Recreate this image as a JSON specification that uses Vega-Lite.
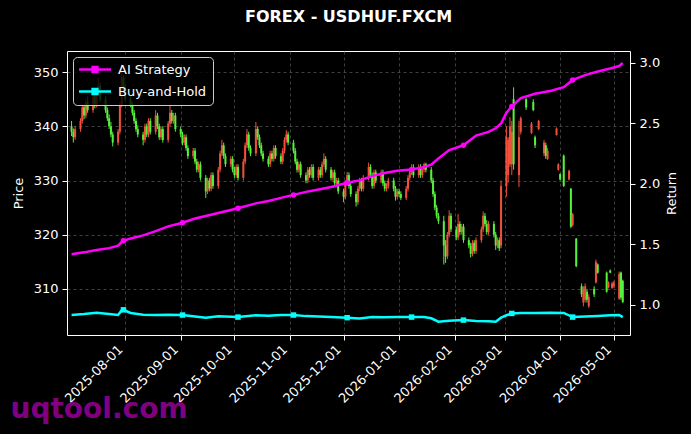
{
"$schema": "https://vega.github.io/schema/vega-lite/v6.json",
"width": 563, "height": 284,
"autosize": {"type": "none"},
"padding": {"left": 67, "top": 51, "right": 61, "bottom": 99},
"background": "#000000",
"config": {
  "font": "DejaVu Sans",
  "view": {"stroke": "#ffffff", "strokeWidth": 1},
  "axis": {"labelColor": "#ffffff", "labelFontSize": 13, "labelFont": "DejaVu Sans", "titleColor": "#ffffff", "titleFontSize": 13, "titleFontWeight": "normal", "titleFont": "DejaVu Sans", "tickColor": "#ffffff", "tickSize": 5, "labelPadding": 4, "domain": false, "gridColor": "#5a5a5a", "gridDash": [3, 3], "gridWidth": 0.7},
  "legend": {"orient": "top-left", "offset": 6, "padding": 6, "fillColor": "rgba(0,0,0,0.8)", "strokeColor": "#cccccc", "cornerRadius": 4, "labelColor": "#ffffff", "labelFontSize": 13, "labelFont": "DejaVu Sans", "symbolType": "M-1.3,0H5.1M1.42,-0.48H2.38V0.48H1.42Z", "symbolSize": 100, "symbolStrokeWidth": 2.5, "rowPadding": 7, "labelOffset": 26}
},
"title": {"text": "FOREX - USDHUF.FXCM", "color": "#ffffff", "fontSize": 16, "fontWeight": "bold", "font": "DejaVu Sans", "offset": 26, "anchor": "middle"},
"datasets": {
"candles": [
{"d":"2025-07-02","o":340,"h":341,"l":338.2,"c":339},
{"d":"2025-07-03","o":339,"h":339.6,"l":337,"c":338},
{"d":"2025-07-04","o":338,"h":340,"l":337.5,"c":339.5},
{"d":"2025-07-07","o":339.5,"h":341.5,"l":339,"c":341},
{"d":"2025-07-08","o":341,"h":344,"l":340.5,"c":343.5},
{"d":"2025-07-09","o":343.5,"h":344,"l":341.3,"c":342},
{"d":"2025-07-10","o":342,"h":345,"l":341.5,"c":344.5},
{"d":"2025-07-11","o":344.5,"h":345.5,"l":342.5,"c":343},
{"d":"2025-07-14","o":343,"h":346,"l":342.5,"c":345.5},
{"d":"2025-07-15","o":345.5,"h":346,"l":343.3,"c":344},
{"d":"2025-07-16","o":344,"h":347,"l":343.5,"c":346.5},
{"d":"2025-07-17","o":346.5,"h":349,"l":346,"c":347.5},
{"d":"2025-07-18","o":347.5,"h":348,"l":344.5,"c":345},
{"d":"2025-07-21","o":345,"h":345.6,"l":342.5,"c":343},
{"d":"2025-07-22","o":343,"h":343.5,"l":341,"c":341.5},
{"d":"2025-07-23","o":341.5,"h":342.2,"l":339.5,"c":340},
{"d":"2025-07-24","o":340,"h":340.8,"l":338,"c":338.5},
{"d":"2025-07-25","o":338.5,"h":339,"l":336.3,"c":337},
{"d":"2025-07-28","o":337,"h":339.5,"l":336.5,"c":339},
{"d":"2025-07-29","o":339,"h":344.5,"l":338.5,"c":344},
{"d":"2025-07-30","o":344,"h":351.5,"l":343.5,"c":349},
{"d":"2025-07-31","o":349,"h":349.5,"l":346.5,"c":347},
{"d":"2025-08-01","o":347,"h":347.8,"l":344.5,"c":345},
{"d":"2025-08-04","o":345,"h":345.5,"l":343.5,"c":344},
{"d":"2025-08-05","o":344,"h":344.5,"l":342,"c":342.5},
{"d":"2025-08-06","o":342.5,"h":343,"l":340.5,"c":341},
{"d":"2025-08-07","o":341,"h":341.5,"l":339,"c":339.5},
{"d":"2025-08-08","o":339.5,"h":340.2,"l":338,"c":338.5},
{"d":"2025-08-11","o":338.5,"h":339,"l":336.5,"c":337.5},
{"d":"2025-08-12","o":337.5,"h":340.5,"l":337,"c":340},
{"d":"2025-08-13","o":340,"h":340.5,"l":338,"c":338.5},
{"d":"2025-08-14","o":338.5,"h":341.5,"l":338,"c":341},
{"d":"2025-08-15","o":341,"h":341.5,"l":338.5,"c":339},
{"d":"2025-08-18","o":339,"h":343,"l":338.5,"c":342},
{"d":"2025-08-19","o":342,"h":342.5,"l":339.5,"c":340},
{"d":"2025-08-20","o":340,"h":340.5,"l":337.5,"c":338},
{"d":"2025-08-21","o":338,"h":340,"l":337.5,"c":339.5},
{"d":"2025-08-22","o":339.5,"h":340,"l":337,"c":337.5},
{"d":"2025-08-25","o":337.5,"h":341,"l":337,"c":340.5},
{"d":"2025-08-26","o":340.5,"h":344,"l":340,"c":342.5},
{"d":"2025-08-27","o":342.5,"h":343,"l":340.5,"c":341},
{"d":"2025-08-28","o":341,"h":342.5,"l":340.5,"c":342},
{"d":"2025-08-29","o":342,"h":342.5,"l":339,"c":339.5},
{"d":"2025-09-01","o":339.5,"h":340,"l":338,"c":338.5},
{"d":"2025-09-02","o":338.5,"h":339,"l":336.5,"c":337},
{"d":"2025-09-03","o":337,"h":338.5,"l":336.5,"c":338},
{"d":"2025-09-04","o":338,"h":338.5,"l":335.5,"c":336},
{"d":"2025-09-05","o":336,"h":336.5,"l":334,"c":334.5},
{"d":"2025-09-08","o":334.5,"h":336,"l":334,"c":335.5},
{"d":"2025-09-09","o":335.5,"h":336,"l":333,"c":333.5},
{"d":"2025-09-10","o":333.5,"h":334,"l":331.5,"c":332},
{"d":"2025-09-11","o":332,"h":333.5,"l":331.5,"c":333},
{"d":"2025-09-12","o":333,"h":333.5,"l":330,"c":330.5},
{"d":"2025-09-15","o":330.5,"h":331,"l":326.8,"c":328},
{"d":"2025-09-16","o":328,"h":330.5,"l":327.5,"c":330},
{"d":"2025-09-17","o":330,"h":330.5,"l":328,"c":328.5},
{"d":"2025-09-18","o":328.5,"h":331.5,"l":328,"c":331},
{"d":"2025-09-19","o":331,"h":331.5,"l":328.5,"c":329},
{"d":"2025-09-22","o":329,"h":332.5,"l":328.5,"c":332},
{"d":"2025-09-23","o":332,"h":335.5,"l":331.5,"c":335},
{"d":"2025-09-24","o":335,"h":337.5,"l":334.5,"c":336.5},
{"d":"2025-09-25","o":336.5,"h":337,"l":334,"c":334.5},
{"d":"2025-09-26","o":334.5,"h":335,"l":332.5,"c":333},
{"d":"2025-09-29","o":333,"h":334.5,"l":332.5,"c":334},
{"d":"2025-09-30","o":334,"h":334.5,"l":331.5,"c":332},
{"d":"2025-10-01","o":332,"h":332.5,"l":330.5,"c":331},
{"d":"2025-10-02","o":331,"h":333,"l":330.5,"c":332.5},
{"d":"2025-10-03","o":332.5,"h":333,"l":330,"c":330.5},
{"d":"2025-10-06","o":330.5,"h":334,"l":330,"c":333.5},
{"d":"2025-10-07","o":333.5,"h":337,"l":333,"c":336.5},
{"d":"2025-10-08","o":336.5,"h":339.5,"l":336,"c":338.5},
{"d":"2025-10-09","o":338.5,"h":339,"l":335.5,"c":336},
{"d":"2025-10-10","o":336,"h":336.5,"l":334.5,"c":335},
{"d":"2025-10-13","o":335,"h":340.8,"l":334.5,"c":339.5},
{"d":"2025-10-14","o":339.5,"h":340,"l":337.5,"c":338},
{"d":"2025-10-15","o":338,"h":338.5,"l":336,"c":336.5},
{"d":"2025-10-16","o":336.5,"h":337,"l":334.5,"c":335},
{"d":"2025-10-17","o":335,"h":335.5,"l":333.5,"c":334},
{"d":"2025-10-20","o":334,"h":334.5,"l":332.5,"c":333},
{"d":"2025-10-21","o":333,"h":335.5,"l":332.5,"c":335},
{"d":"2025-10-22","o":335,"h":335.5,"l":333.5,"c":334},
{"d":"2025-10-23","o":334,"h":336.5,"l":333.5,"c":336},
{"d":"2025-10-24","o":336,"h":336.5,"l":334,"c":334.5},
{"d":"2025-10-27","o":334.5,"h":335,"l":333,"c":333.5},
{"d":"2025-10-28","o":333.5,"h":336,"l":333,"c":335.5},
{"d":"2025-10-29","o":335.5,"h":338,"l":335,"c":337.5},
{"d":"2025-10-30","o":337.5,"h":339.3,"l":337,"c":338.5},
{"d":"2025-10-31","o":338.5,"h":339,"l":336.5,"c":337},
{"d":"2025-11-03","o":337,"h":337.5,"l":335,"c":335.5},
{"d":"2025-11-04","o":335.5,"h":336,"l":333,"c":333.5},
{"d":"2025-11-05","o":333.5,"h":334,"l":331.5,"c":332},
{"d":"2025-11-06","o":332,"h":333.5,"l":331.5,"c":333},
{"d":"2025-11-07","o":333,"h":333.5,"l":330.5,"c":331},
{"d":"2025-11-10","o":331,"h":331.5,"l":329.5,"c":330},
{"d":"2025-11-11","o":330,"h":332.5,"l":329.5,"c":332},
{"d":"2025-11-12","o":332,"h":332.5,"l":330.5,"c":331},
{"d":"2025-11-13","o":331,"h":333,"l":330.5,"c":332.5},
{"d":"2025-11-14","o":332.5,"h":333,"l":330,"c":330.5},
{"d":"2025-11-17","o":330.5,"h":332.5,"l":330,"c":332},
{"d":"2025-11-18","o":332,"h":332.5,"l":330.5,"c":331},
{"d":"2025-11-19","o":331,"h":333.5,"l":330.5,"c":333},
{"d":"2025-11-20","o":333,"h":335,"l":332.5,"c":334},
{"d":"2025-11-21","o":334,"h":334.5,"l":331.5,"c":332},
{"d":"2025-11-24","o":332,"h":332.5,"l":330,"c":330.5},
{"d":"2025-11-25","o":330.5,"h":332,"l":330,"c":331.5},
{"d":"2025-11-26","o":331.5,"h":332,"l":329,"c":329.5},
{"d":"2025-11-27","o":329.5,"h":330.5,"l":329,"c":330},
{"d":"2025-11-28","o":330,"h":330.5,"l":327.5,"c":328},
{"d":"2025-12-01","o":328,"h":328.5,"l":326,"c":327},
{"d":"2025-12-02","o":327,"h":330,"l":326.5,"c":329.5},
{"d":"2025-12-03","o":329.5,"h":331.6,"l":329,"c":331},
{"d":"2025-12-04","o":331,"h":331.5,"l":328.5,"c":329},
{"d":"2025-12-05","o":329,"h":329.5,"l":327,"c":327.5},
{"d":"2025-12-08","o":327.5,"h":328,"l":325.2,"c":326},
{"d":"2025-12-09","o":326,"h":329,"l":325.5,"c":328.5},
{"d":"2025-12-10","o":328.5,"h":330.5,"l":328,"c":330},
{"d":"2025-12-11","o":330,"h":330.5,"l":328,"c":328.5},
{"d":"2025-12-12","o":328.5,"h":331,"l":328,"c":330.5},
{"d":"2025-12-15","o":330.5,"h":333.3,"l":330,"c":332.5},
{"d":"2025-12-16","o":332.5,"h":333,"l":330.5,"c":331},
{"d":"2025-12-17","o":331,"h":331.5,"l":328.5,"c":329},
{"d":"2025-12-18","o":329,"h":332,"l":328.5,"c":331.5},
{"d":"2025-12-19","o":331.5,"h":332,"l":329.5,"c":330},
{"d":"2025-12-22","o":330,"h":332,"l":329.5,"c":331.5},
{"d":"2025-12-23","o":331.5,"h":332,"l":329,"c":329.5},
{"d":"2025-12-24","o":329.5,"h":330,"l":328,"c":328.5},
{"d":"2025-12-25","o":328.5,"h":329.5,"l":328,"c":329},
{"d":"2025-12-26","o":329,"h":330.5,"l":328.5,"c":330},
{"d":"2025-12-29","o":330,"h":330.5,"l":328,"c":328.5},
{"d":"2025-12-30","o":328.5,"h":329,"l":326.3,"c":327},
{"d":"2025-12-31","o":327,"h":328.5,"l":326.5,"c":328},
{"d":"2026-01-01","o":328,"h":328.5,"l":327,"c":327.5},
{"d":"2026-01-02","o":327.5,"h":328,"l":326.4,"c":326.8},
{"d":"2026-01-05","o":326.8,"h":329,"l":326.4,"c":328.5},
{"d":"2026-01-06","o":328.5,"h":331,"l":328,"c":330.5},
{"d":"2026-01-07","o":330.5,"h":332,"l":330,"c":331.5},
{"d":"2026-01-08","o":331.5,"h":333,"l":331,"c":332.5},
{"d":"2026-01-09","o":332.5,"h":333,"l":330.5,"c":331},
{"d":"2026-01-12","o":331,"h":333,"l":330.5,"c":332.5},
{"d":"2026-01-13","o":332.5,"h":333,"l":330.5,"c":331},
{"d":"2026-01-14","o":331,"h":332.5,"l":330.5,"c":332},
{"d":"2026-01-15","o":332,"h":333.3,"l":331.5,"c":333},
{"d":"2026-01-16","o":333,"h":333.3,"l":331.5,"c":332},
{"d":"2026-01-19","o":332,"h":332.5,"l":329.5,"c":330},
{"d":"2026-01-20","o":330,"h":330.5,"l":327,"c":327.5},
{"d":"2026-01-21","o":327.5,"h":328,"l":324.5,"c":325},
{"d":"2026-01-22","o":325,"h":325.5,"l":323,"c":323.5},
{"d":"2026-01-23","o":323.5,"h":324,"l":322,"c":322.5},
{"d":"2026-01-26","o":322.5,"h":323.5,"l":314.5,"c":318},
{"d":"2026-01-27","o":318,"h":319,"l":314.8,"c":316},
{"d":"2026-01-28","o":316,"h":320.5,"l":315.5,"c":320},
{"d":"2026-01-29","o":320,"h":324.5,"l":319.5,"c":323.5},
{"d":"2026-01-30","o":323.5,"h":324,"l":320.5,"c":321},
{"d":"2026-02-02","o":321,"h":321.5,"l":319,"c":319.5},
{"d":"2026-02-03","o":319.5,"h":323.8,"l":319,"c":322},
{"d":"2026-02-04","o":322,"h":322.5,"l":320,"c":320.5},
{"d":"2026-02-05","o":320.5,"h":322,"l":320,"c":321.5},
{"d":"2026-02-06","o":321.5,"h":322,"l":318.5,"c":319},
{"d":"2026-02-09","o":319,"h":319.5,"l":317.5,"c":318},
{"d":"2026-02-10","o":318,"h":318.5,"l":315.8,"c":316.5},
{"d":"2026-02-11","o":316.5,"h":319,"l":316,"c":318.5},
{"d":"2026-02-12","o":318.5,"h":319,"l":316.5,"c":317},
{"d":"2026-02-13","o":317,"h":319.5,"l":316.5,"c":319},
{"d":"2026-02-16","o":319,"h":321.5,"l":318.5,"c":321},
{"d":"2026-02-17","o":321,"h":324.3,"l":320.5,"c":323.5},
{"d":"2026-02-18","o":323.5,"h":324,"l":321.5,"c":322},
{"d":"2026-02-19","o":322,"h":322.7,"l":320,"c":320.5},
{"d":"2026-02-20","o":320.5,"h":322.5,"l":320,"c":322},
{"d":"2026-02-23","o":322,"h":322.5,"l":319.5,"c":320},
{"d":"2026-02-24","o":320,"h":320.5,"l":317.2,"c":318},
{"d":"2026-02-25","o":318,"h":319.5,"l":317.5,"c":319},
{"d":"2026-02-26","o":319,"h":319.5,"l":317,"c":317.5},
{"d":"2026-02-27","o":318,"h":330,"l":317.5,"c":329},
{"d":"2026-03-02","o":329,"h":340,"l":327,"c":338},
{"d":"2026-03-03","o":331,"h":338,"l":329.6,"c":337.5},
{"d":"2026-03-04","o":333,"h":341.7,"l":332.5,"c":340},
{"d":"2026-03-05","o":333,"h":341,"l":331,"c":339},
{"d":"2026-03-06","o":345,"h":347.2,"l":332,"c":333},
{"d":"2026-03-09","o":331,"h":341,"l":328.8,"c":338},
{"d":"2026-03-10","o":339,"h":341.8,"l":338.5,"c":341.5},
{"d":"2026-03-13","o":345,"h":345.3,"l":343,"c":343.5},
{"d":"2026-03-16","o":338.8,"h":340.8,"l":338.6,"c":340.5},
{"d":"2026-03-17","o":344.5,"h":345,"l":342.8,"c":343},
{"d":"2026-03-18","o":338,"h":338.3,"l":336,"c":336.5},
{"d":"2026-03-20","o":339.5,"h":341.2,"l":339.3,"c":341},
{"d":"2026-03-23","o":335,"h":337.5,"l":334.5,"c":337},
{"d":"2026-03-24","o":336.5,"h":337,"l":334,"c":334.5},
{"d":"2026-03-25","o":334,"h":336,"l":333.8,"c":335.5},
{"d":"2026-03-30","o":338.4,"h":339.8,"l":338.3,"c":339.6},
{"d":"2026-03-31","o":332,"h":333.2,"l":331.8,"c":333},
{"d":"2026-04-01","o":331.2,"h":331.3,"l":330,"c":330.2},
{"d":"2026-04-03","o":334.6,"h":334.8,"l":328.8,"c":329},
{"d":"2026-04-06","o":330.2,"h":332,"l":330,"c":331.8},
{"d":"2026-04-07","o":328.5,"h":328.6,"l":321.2,"c":321.5},
{"d":"2026-04-08","o":321.8,"h":324,"l":321.5,"c":323.8},
{"d":"2026-04-10","o":319.3,"h":319.4,"l":314,"c":314.2},
{"d":"2026-04-13","o":310.5,"h":311,"l":308.5,"c":309},
{"d":"2026-04-14","o":307.5,"h":310.5,"l":306.8,"c":310},
{"d":"2026-04-15","o":308,"h":311,"l":307.5,"c":310.5},
{"d":"2026-04-16","o":309.5,"h":310,"l":307.5,"c":308},
{"d":"2026-04-17","o":306.8,"h":309,"l":306.5,"c":308.5},
{"d":"2026-04-20","o":310,"h":310.5,"l":308.5,"c":309},
{"d":"2026-04-21","o":311.2,"h":315.4,"l":311,"c":315},
{"d":"2026-04-22","o":314.5,"h":314.7,"l":312.8,"c":313},
{"d":"2026-04-27","o":313,"h":313.2,"l":309.3,"c":309.5},
{"d":"2026-04-28","o":310.3,"h":311.4,"l":310.1,"c":311.2},
{"d":"2026-04-29","o":313.4,"h":313.6,"l":312.9,"c":313},
{"d":"2026-04-30","o":310.2,"h":311.3,"l":310,"c":311},
{"d":"2026-05-01","o":310.5,"h":311.5,"l":310.2,"c":311.2},
{"d":"2026-05-04","o":308.2,"h":313.2,"l":308,"c":312.8},
{"d":"2026-05-05","o":313,"h":313.2,"l":308,"c":308.4},
{"d":"2026-05-06","o":311.5,"h":311.7,"l":307.4,"c":307.6}
],
"ret": [
{"d":"2025-07-02","AI Strategy":1.42,"Buy-and-Hold":0.917},
{"d":"2025-07-09","AI Strategy":1.435,"Buy-and-Hold":0.925},
{"d":"2025-07-16","AI Strategy":1.455,"Buy-and-Hold":0.936},
{"d":"2025-07-23","AI Strategy":1.47,"Buy-and-Hold":0.925},
{"d":"2025-07-28","AI Strategy":1.49,"Buy-and-Hold":0.917},
{"d":"2025-07-30","AI Strategy":1.52,"Buy-and-Hold":0.955},
{"d":"2025-07-31","AI Strategy":1.53,"Buy-and-Hold":0.96},
{"d":"2025-08-04","AI Strategy":1.55,"Buy-and-Hold":0.934},
{"d":"2025-08-11","AI Strategy":1.575,"Buy-and-Hold":0.92},
{"d":"2025-08-18","AI Strategy":1.61,"Buy-and-Hold":0.917},
{"d":"2025-08-25","AI Strategy":1.65,"Buy-and-Hold":0.92},
{"d":"2025-09-02","AI Strategy":1.68,"Buy-and-Hold":0.917},
{"d":"2025-09-09","AI Strategy":1.715,"Buy-and-Hold":0.905},
{"d":"2025-09-15","AI Strategy":1.735,"Buy-and-Hold":0.895},
{"d":"2025-09-22","AI Strategy":1.76,"Buy-and-Hold":0.906},
{"d":"2025-10-03","AI Strategy":1.80,"Buy-and-Hold":0.90},
{"d":"2025-10-13","AI Strategy":1.84,"Buy-and-Hold":0.915},
{"d":"2025-10-20","AI Strategy":1.86,"Buy-and-Hold":0.912},
{"d":"2025-10-27","AI Strategy":1.885,"Buy-and-Hold":0.917},
{"d":"2025-11-03","AI Strategy":1.91,"Buy-and-Hold":0.917},
{"d":"2025-11-10","AI Strategy":1.935,"Buy-and-Hold":0.908},
{"d":"2025-11-17","AI Strategy":1.955,"Buy-and-Hold":0.905},
{"d":"2025-11-24","AI Strategy":1.975,"Buy-and-Hold":0.90},
{"d":"2025-12-03","AI Strategy":2.01,"Buy-and-Hold":0.895},
{"d":"2025-12-10","AI Strategy":2.03,"Buy-and-Hold":0.888},
{"d":"2025-12-17","AI Strategy":2.065,"Buy-and-Hold":0.90},
{"d":"2025-12-24","AI Strategy":2.09,"Buy-and-Hold":0.898},
{"d":"2025-12-31","AI Strategy":2.11,"Buy-and-Hold":0.90},
{"d":"2026-01-08","AI Strategy":2.12,"Buy-and-Hold":0.90},
{"d":"2026-01-15","AI Strategy":2.14,"Buy-and-Hold":0.90},
{"d":"2026-01-19","AI Strategy":2.16,"Buy-and-Hold":0.89},
{"d":"2026-01-23","AI Strategy":2.21,"Buy-and-Hold":0.862},
{"d":"2026-01-29","AI Strategy":2.28,"Buy-and-Hold":0.87},
{"d":"2026-02-06","AI Strategy":2.32,"Buy-and-Hold":0.875},
{"d":"2026-02-13","AI Strategy":2.40,"Buy-and-Hold":0.868},
{"d":"2026-02-20","AI Strategy":2.43,"Buy-and-Hold":0.865},
{"d":"2026-02-24","AI Strategy":2.46,"Buy-and-Hold":0.862},
{"d":"2026-02-27","AI Strategy":2.50,"Buy-and-Hold":0.895},
{"d":"2026-03-02","AI Strategy":2.59,"Buy-and-Hold":0.915},
{"d":"2026-03-05","AI Strategy":2.64,"Buy-and-Hold":0.93},
{"d":"2026-03-10","AI Strategy":2.71,"Buy-and-Hold":0.934},
{"d":"2026-03-18","AI Strategy":2.745,"Buy-and-Hold":0.934},
{"d":"2026-03-27","AI Strategy":2.77,"Buy-and-Hold":0.936},
{"d":"2026-04-03","AI Strategy":2.80,"Buy-and-Hold":0.934},
{"d":"2026-04-08","AI Strategy":2.86,"Buy-and-Hold":0.90},
{"d":"2026-04-15","AI Strategy":2.90,"Buy-and-Hold":0.905},
{"d":"2026-04-22","AI Strategy":2.93,"Buy-and-Hold":0.91},
{"d":"2026-04-29","AI Strategy":2.955,"Buy-and-Hold":0.915},
{"d":"2026-05-04","AI Strategy":2.975,"Buy-and-Hold":0.917},
{"d":"2026-05-06","AI Strategy":3.0,"Buy-and-Hold":0.90}
],
"mk": [
{"d":"2025-07-31","AI Strategy":1.53,"Buy-and-Hold":0.96},
{"d":"2025-09-02","AI Strategy":1.68,"Buy-and-Hold":0.917},
{"d":"2025-10-03","AI Strategy":1.80,"Buy-and-Hold":0.90},
{"d":"2025-11-03","AI Strategy":1.91,"Buy-and-Hold":0.917},
{"d":"2025-12-03","AI Strategy":2.01,"Buy-and-Hold":0.895},
{"d":"2026-01-08","AI Strategy":2.12,"Buy-and-Hold":0.90},
{"d":"2026-02-06","AI Strategy":2.32,"Buy-and-Hold":0.875},
{"d":"2026-03-05","AI Strategy":2.64,"Buy-and-Hold":0.93},
{"d":"2026-04-08","AI Strategy":2.86,"Buy-and-Hold":0.90}
]
},
"encoding": {
  "x": {"field": "d", "type": "temporal",
    "scale": {"type": "utc", "nice": false, "domain": [{"year": 2025, "month": 7, "date": 2, "hours": 6, "utc": true}, {"year": 2026, "month": 5, "date": 7, "hours": 6, "utc": true}]},
    "axis": {"values": [
      {"year": 2025, "month": 8, "date": 1, "utc": true}, {"year": 2025, "month": 9, "date": 1, "utc": true}, {"year": 2025, "month": 10, "date": 1, "utc": true}, {"year": 2025, "month": 11, "date": 1, "utc": true}, {"year": 2025, "month": 12, "date": 1, "utc": true},
      {"year": 2026, "month": 1, "date": 1, "utc": true}, {"year": 2026, "month": 2, "date": 1, "utc": true}, {"year": 2026, "month": 3, "date": 1, "utc": true}, {"year": 2026, "month": 4, "date": 1, "utc": true}, {"year": 2026, "month": 5, "date": 1, "utc": true}],
      "format": "%Y-%m-%d", "labelAngle": -45, "labelAlign": "right", "labelBaseline": "middle", "labelOverlap": false, "labelOffset": -5, "labelPadding": 7, "grid": true,
      "title": "uqtool.com", "titleColor": "#800080", "titleFontSize": 28, "titleFontWeight": "bold", "titleAnchor": "start", "titleAlign": "left", "titleX": -57, "titleY": 82, "titleBaseline": "alphabetic"}}
},
"layer": [
  {
    "data": {"name": "candles"},
    "encoding": {
      "y": {"field": "l", "type": "quantitative", "scale": {"domain": [301.5, 353.9], "nice": false, "zero": false},
        "axis": {"title": "Price", "values": [310, 320, 330, 340, 350], "grid": true, "titlePadding": 8, "orient": "left"}},
      "color": {"condition": {"test": "datum.c > datum.o", "value": "#f0503c"}, "value": "#55f23c"}
    },
    "layer": [
      {"mark": {"type": "rule", "strokeWidth": 1}, "encoding": {"y2": {"field": "h"}}},
      {"mark": {"type": "bar", "size": 2}, "encoding": {"y": {"field": "o", "type": "quantitative"}, "y2": {"field": "c"}}}
    ]
  },
  {
    "encoding": {
      "y": {"field": "value", "type": "quantitative", "scale": {"domain": [0.752, 3.099], "nice": false, "zero": false},
        "axis": {"orient": "right", "title": "Return", "values": [1, 1.5, 2, 2.5, 3], "format": ".1f", "grid": false, "titleAngle": 270, "titleBaseline": "top", "titlePadding": 6}}
    },
    "layer": [
      {"data": {"name": "ret"}, "transform": [{"fold": ["AI Strategy", "Buy-and-Hold"], "as": ["series", "value"]}],
       "mark": {"type": "line", "strokeWidth": 2.5},
       "encoding": {"color": {"field": "series", "type": "nominal", "scale": {"domain": ["AI Strategy", "Buy-and-Hold"], "range": ["#ff00ff", "#00ffff"]}, "legend": {"title": null}}}},
      {"data": {"name": "mk"}, "transform": [{"fold": ["AI Strategy"], "as": ["series", "value"]}],
       "mark": {"type": "point", "shape": "circle", "filled": true, "size": 30, "color": "#ff00ff", "opacity": 1}},
      {"data": {"name": "mk"}, "transform": [{"fold": ["Buy-and-Hold"], "as": ["series", "value"]}],
       "mark": {"type": "point", "shape": "square", "filled": true, "size": 30, "color": "#00ffff", "opacity": 1}}
    ]
  }
],
"resolve": {"scale": {"y": "independent"}}
}
